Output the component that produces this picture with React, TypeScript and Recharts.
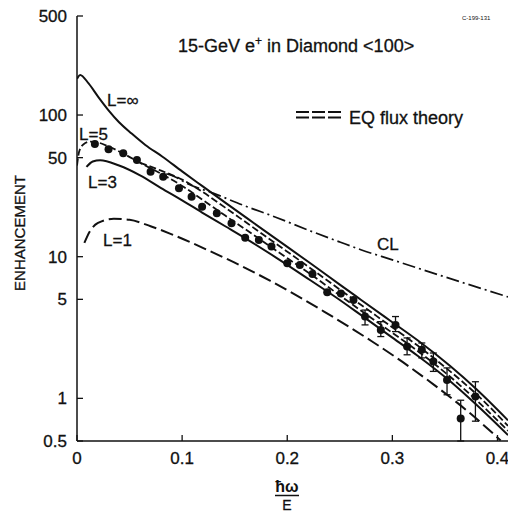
import React from 'react'
import { ComposedChart, Line, Scatter, XAxis, YAxis, ErrorBar } from 'recharts'

// axis ticks
const xTicks = [0, 0.1, 0.2, 0.3, 0.4]
const xTopTicks = [0.1, 0.2, 0.3]
const yTicks = [0.5, 1, 5, 10, 50, 100, 500]

// L = infinity (solid)
const infX = [0, 0.003, 0.011, 0.02, 0.03, 0.04, 0.052, 0.065, 0.081, 0.1, 0.119, 0.141, 0.163, 0.189, 0.222, 0.25, 0.27, 0.298, 0.324, 0.355, 0.38, 0.41]
const infY = [180, 192, 167, 135, 108, 89, 74, 61.5, 51, 40, 31.6, 24.1, 18.4, 13.4, 8.98, 6.35, 4.97, 3.53, 2.57, 1.69, 1.16, 0.7]

// EQ flux theory, upper dashed branch
const eqAX = [0.06, 0.08, 0.1, 0.119, 0.141, 0.163, 0.189, 0.222, 0.25, 0.27, 0.298, 0.324, 0.355, 0.38, 0.41]
const eqAY = [46, 40.5, 35, 28.8, 22.2, 17.0, 12.4, 8.3, 5.86, 4.58, 3.25, 2.36, 1.55, 1.07, 0.64]

// EQ flux theory / L = 5 (dashed through the data)
const eqBX = [0, 0.002, 0.006, 0.013, 0.02, 0.03, 0.045, 0.06, 0.08, 0.1, 0.119, 0.141, 0.163, 0.189, 0.222, 0.25, 0.27, 0.298, 0.324, 0.355, 0.38, 0.41]
const eqBY = [44, 55, 62, 65, 64, 60, 53, 46, 38.5, 31.6, 25.3, 19.5, 15.1, 11.1, 7.54, 5.33, 4.17, 2.97, 2.16, 1.42, 0.97, 0.59]

// L = 3 (solid)
const l3X = [0.009, 0.015, 0.022, 0.04, 0.06, 0.08, 0.1, 0.119, 0.141, 0.163, 0.189, 0.222, 0.25, 0.27, 0.298, 0.324, 0.355, 0.38, 0.41]
const l3Y = [43, 47, 48, 44, 37.5, 30.5, 25, 20.5, 16.4, 13.1, 9.9, 6.82, 4.95, 3.88, 2.75, 2.0, 1.32, 0.9, 0.55]

// L = 1 (long dashes)
const l1X = [0.007, 0.012, 0.02, 0.035, 0.05, 0.07, 0.089, 0.127, 0.15, 0.168, 0.184, 0.21, 0.235, 0.263, 0.28, 0.31, 0.34, 0.37, 0.403]
const l1Y = [12.5, 15, 17.3, 18.5, 18.2, 16.4, 14.5, 10.9, 9.07, 7.78, 6.74, 5.27, 4.1, 3.06, 2.54, 1.8, 1.24, 0.83, 0.505]

// CL (dash-dot)
const clX = [0.085, 0.093, 0.104, 0.13, 0.16, 0.189, 0.222, 0.25, 0.27, 0.3, 0.35, 0.41]
const clY = [38.5, 36.7, 33, 28, 22.8, 19, 15.2, 12.7, 11.2, 9.5, 7.2, 5.2]

// measured points without visible error bars
const dotX = [0.017, 0.03, 0.044, 0.057, 0.07, 0.082, 0.097, 0.109, 0.119, 0.133, 0.147, 0.16, 0.173, 0.185, 0.2, 0.212, 0.224, 0.238, 0.251, 0.263]
const dotY = [62.5, 57.3, 53.7, 48.2, 39.8, 36.7, 30.4, 26.5, 22.5, 20.3, 17.2, 13.6, 13.1, 11.8, 9.0, 8.75, 7.55, 5.6, 5.5, 4.95]

// measured points with error bars
const errX = [0.274, 0.289, 0.303, 0.314, 0.328, 0.339, 0.352, 0.365, 0.379]
const errY = [3.78, 3.04, 3.3, 2.32, 2.2, 1.82, 1.35, 0.72, 1.03]
const errLo = [3.3, 2.73, 2.96, 2.03, 1.93, 1.55, 1.06, 0.5, 0.69]
const errHi = [4.2, 3.48, 3.78, 2.67, 2.46, 2.09, 1.64, 0.97, 1.31]

const pts = (xs: number[], ys: number[]) => xs.map((x, i) => ({ x, y: ys[i] }))
const errPts = errX.map((x, i) => ({ x, y: errY[i], err: [errY[i] - errLo[i], errHi[i] - errY[i]] }))

const FONT = '"Liberation Sans", Arial, Helvetica, sans-serif'
const INK = '#111'
const TXT = { fontFamily: FONT, fill: INK, stroke: INK, strokeWidth: 0.3 }

function YTick(props: any) {
  const { x, y, payload } = props
  const ax = x + 10
  return (
    <g>
      <line x1={ax} x2={ax + 6} y1={y} y2={y} stroke={INK} strokeWidth={1.3} />
      <text x={x} y={y} dy={6} textAnchor="end" fontSize={17} {...TXT}>
        {String(payload.value)}
      </text>
    </g>
  )
}

function XTick(props: any) {
  const { x, y, payload } = props
  const ay = y - 10
  return (
    <g>
      <line x1={x} x2={x} y1={ay} y2={ay - 6} stroke={INK} strokeWidth={1.3} />
      <text x={x} y={y} dy={13} textAnchor="middle" fontSize={17} {...TXT}>
        {String(payload.value)}
      </text>
    </g>
  )
}

function TopTick(props: any) {
  const { x, y } = props
  return <line x1={x} x2={x} y1={y} y2={y + 5} stroke={INK} strokeWidth={1.3} />
}

function Dot(props: any) {
  const { cx, cy } = props
  return <circle cx={cx} cy={cy} r={4} fill={INK} />
}

export default function App() {
  return (
    <div style={{ position: 'absolute', left: 0, top: 0, width: 508, height: 514, background: '#fff' }}>
      <ComposedChart width={508} height={514} margin={{ top: 16, right: 0, bottom: 43, left: 0 }}>
        <XAxis
          dataKey="x"
          type="number"
          domain={[0, 0.41]}
          ticks={xTicks}
          allowDataOverflow
          height={30}
          tickSize={0}
          tickMargin={10}
          tickLine={false}
          tick={(p: any) => <XTick {...p} />}
          axisLine={{ stroke: INK, strokeWidth: 1.5 }}
        />
        <XAxis
          xAxisId="top"
          orientation="top"
          dataKey="x"
          type="number"
          domain={[0, 0.41]}
          ticks={xTopTicks}
          allowDataOverflow
          height={0}
          tickSize={0}
          tickMargin={0}
          tickLine={false}
          tick={(p: any) => <TopTick {...p} />}
          axisLine={{ stroke: INK, strokeWidth: 1.5 }}
        />
        <YAxis
          type="number"
          scale="log"
          domain={[0.5, 500]}
          ticks={yTicks}
          allowDataOverflow
          width={77}
          tickSize={0}
          tickMargin={10}
          tickLine={false}
          tick={(p: any) => <YTick {...p} />}
          axisLine={{ stroke: INK, strokeWidth: 1.5 }}
        />
        <Line data={pts(infX, infY)} dataKey="y" type="monotone" stroke={INK} strokeWidth={2} dot={false} activeDot={false} isAnimationActive={false} />
        <Line data={pts(eqAX, eqAY)} dataKey="y" type="monotone" stroke={INK} strokeWidth={1.8} strokeDasharray="7 3" dot={false} activeDot={false} isAnimationActive={false} />
        <Line data={pts(eqBX, eqBY)} dataKey="y" type="monotone" stroke={INK} strokeWidth={1.8} strokeDasharray="7 3" dot={false} activeDot={false} isAnimationActive={false} />
        <Line data={pts(l3X, l3Y)} dataKey="y" type="monotone" stroke={INK} strokeWidth={2} dot={false} activeDot={false} isAnimationActive={false} />
        <Line data={pts(l1X, l1Y)} dataKey="y" type="monotone" stroke={INK} strokeWidth={2} strokeDasharray="13 5" dot={false} activeDot={false} isAnimationActive={false} />
        <Line data={pts(clX, clY)} dataKey="y" type="monotone" stroke={INK} strokeWidth={1.7} strokeDasharray="13 4 2 4" dot={false} activeDot={false} isAnimationActive={false} />
        <Scatter data={pts(dotX, dotY)} dataKey="y" shape={(p: any) => <Dot {...p} />} isAnimationActive={false} />
        <Scatter data={errPts} dataKey="y" shape={(p: any) => <Dot {...p} />} isAnimationActive={false}>
          <ErrorBar dataKey="err" direction="y" width={3.5} stroke={INK} strokeWidth={1.3} />
        </Scatter>
      </ComposedChart>

      <svg width={508} height={514} style={{ position: 'absolute', left: 0, top: 0, pointerEvents: 'none' }}>
        <text x={462} y={20} fontSize={6} fontFamily={FONT} fill={INK}>C-199-131</text>
        <text x={178} y={52} fontSize={18} {...TXT}>
          15-GeV e<tspan dy={-7} fontSize={12}>+</tspan><tspan dy={7}> in Diamond &lt;100&gt;</tspan>
        </text>
        <text x={107} y={106} fontSize={17} {...TXT}>L=∞</text>
        <text x={79} y={140} fontSize={17} {...TXT}>L=5</text>
        <text x={88} y={188} fontSize={17} {...TXT}>L=3</text>
        <text x={103} y={246} fontSize={17} {...TXT}>L=1</text>
        <text x={377} y={250} fontSize={17} {...TXT}>CL</text>
        <line x1={296} x2={343} y1={112} y2={112} stroke={INK} strokeWidth={2} strokeDasharray="13 3" />
        <line x1={296} x2={343} y1={117.5} y2={117.5} stroke={INK} strokeWidth={2} strokeDasharray="13 3" />
        <text x={349} y={124} fontSize={18} {...TXT}>EQ flux theory</text>
        <text transform="translate(25,233) rotate(-90)" textAnchor="middle" fontSize={15} {...TXT}>ENHANCEMENT</text>
        <text x={287} y={492} textAnchor="middle" fontSize={16} fontWeight="bold" fontFamily={FONT} fill={INK}>ħω</text>
        <line x1={275} x2={299} y1={495.5} y2={495.5} stroke={INK} strokeWidth={1.5} />
        <text x={287} y={510} textAnchor="middle" fontSize={14} {...TXT}>E</text>
      </svg>
    </div>
  )
}
